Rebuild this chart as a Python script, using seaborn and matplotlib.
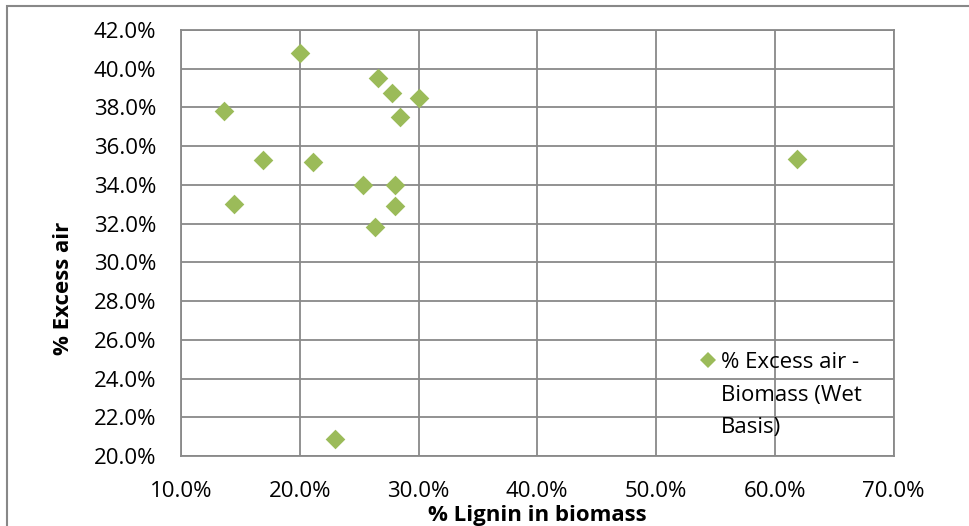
import matplotlib
matplotlib.use("Agg")
import matplotlib.pyplot as plt
import seaborn as sns
import pandas as pd
from matplotlib.ticker import FuncFormatter, MultipleLocator
from matplotlib.patches import Rectangle
from matplotlib.lines import Line2D

lignin = [20.0, 13.6, 16.9, 14.5, 21.1, 26.6, 27.8, 30.0, 28.4, 25.3, 28.0, 28.0, 26.3, 23.0, 61.9]
excess_air = [40.8, 37.8, 35.3, 33.0, 35.2, 39.5, 38.75, 38.5, 37.5, 34.0, 34.0, 32.9, 31.85, 20.9, 35.35]
series_lines = ["% Excess air -", "Biomass (Wet", "Basis)"]

sns.set_theme(style="white")
plt.rcParams['font.family'] = ['Open Sans', 'DejaVu Sans']

df = pd.DataFrame({"x": lignin, "y": excess_air})

W, H = 970, 526
L, R, T, B = 181, 893.5, 30, 456
fig = plt.figure(figsize=(W / 100, H / 100), dpi=100)
ax = fig.add_axes([L / W, 1 - B / H, (R - L) / W, (B - T) / H])

def ax_x(px):
    return (px - L) / (R - L)

def ax_y(py):
    return (B - py) / (B - T)

green = "#9BBB59"
grid_c = "#898989"
fs = 16
sns.scatterplot(data=df, x="x", y="y", ax=ax, marker="D", s=100, color=green,
                linewidth=0, zorder=3, legend=False)

ax.set_xlim(10, 70)
ax.set_ylim(20, 42)
ax.xaxis.set_major_locator(MultipleLocator(10))
ax.yaxis.set_major_locator(MultipleLocator(2))
fmt = FuncFormatter(lambda v, p: f"{v:.1f}%")
ax.xaxis.set_major_formatter(fmt)
ax.yaxis.set_major_formatter(fmt)
ax.grid(True, color=grid_c, linewidth=1.3)
ax.set_axisbelow(True)
for s in ax.spines.values():
    s.set_color(grid_c)
    s.set_linewidth(1.3)
ax.tick_params(axis="both", length=0, labelsize=fs, colors="#000000")
ax.tick_params(axis="x", pad=18)
ax.tick_params(axis="y", pad=18)

ax.set_xlabel("% Lignin in biomass", fontsize=fs, fontweight="bold", color="#000000")
ax.set_ylabel("% Excess air", fontsize=fs, fontweight="bold", color="#000000")
ax.xaxis.set_label_coords(ax_x(537), ax_y(516))
ax.xaxis.label.set_va("center")
ax.yaxis.set_label_coords(ax_x(64), ax_y(288))
ax.yaxis.label.set_va("center")

handle = Line2D([], [], marker="D", linestyle="none", color=green,
                markersize=8.5, markeredgewidth=0)
ax.legend([handle], [series_lines[0]], loc="center left",
          bbox_to_anchor=(ax_x(697), ax_y(362)),
          frameon=False, fontsize=fs, handletextpad=0.1,
          borderpad=0, handlelength=1.0, borderaxespad=0,
          labelcolor="#000000")
for line, py in zip(series_lines[1:], [395, 428]):
    ax.text(ax_x(721), ax_y(py), line, transform=ax.transAxes, fontsize=fs,
            va="center", ha="left", color="#000000")

fig.patches.append(Rectangle((7 / W, -0.05), 1.2, 1 - 6 / H + 0.05, transform=fig.transFigure,
                             fill=False, edgecolor="#888888", linewidth=1.5))

fig.savefig("out.png", dpi=100)
